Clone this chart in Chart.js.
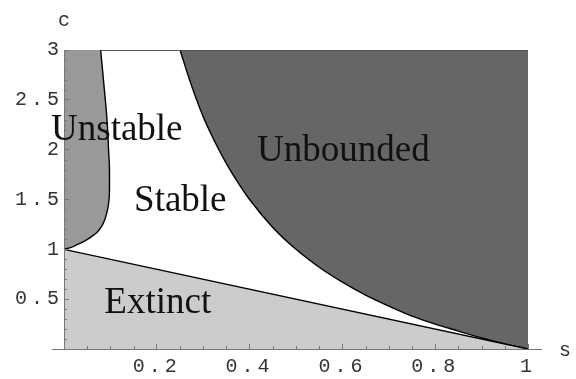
<!DOCTYPE html>
<html lang="en">
<head>
    <meta charset="UTF-8">
    <title>Stability regions in the (s, c) plane</title>
    <script src="https://cdn.jsdelivr.net/npm/chart.js@4.4.1/dist/chart.umd.min.js"></script>
    <style>
        html, body { margin: 0; padding: 0; background: #fff; }
    </style>
</head>
<body>
    <canvas id="chart" width="576" height="379"></canvas>

    <script>
        // edge of the unstable region, read bottom to top (s given c)
        const unstableC = [1.0, 1.02, 1.04, 1.06, 1.09, 1.13, 1.17, 1.23, 1.3, 1.4, 1.5, 1.6, 1.8, 2.0, 2.2, 2.4, 2.6, 2.8, 3.0];
        const unstableS = [0, 0.016, 0.025, 0.034, 0.047, 0.06, 0.071, 0.081, 0.088, 0.094, 0.097, 0.098, 0.098, 0.096, 0.094, 0.091, 0.087, 0.083, 0.079];

        // edge of the unbounded region
        const unboundedS = [0.25, 0.275, 0.3, 0.325, 0.35, 0.375, 0.4, 0.45, 0.5, 0.55, 0.6, 0.65, 0.7, 0.75, 0.8, 0.85, 0.9, 0.95, 1.0];
        const unboundedC = [3.0, 2.64, 2.33, 2.08, 1.86, 1.67, 1.5, 1.22, 1.0, 0.82, 0.67, 0.54, 0.43, 0.33, 0.25, 0.18, 0.11, 0.05, 0];

        // extinction line
        const extinctS = [0, 1];
        const extinctC = [1, 0];

        // region names
        const regionNames = ['Unstable', 'Stable', 'Unbounded', 'Extinct'];

        const toPoints = (xs, ys) => xs.map((x, i) => ({ x: x, y: ys[i] }));

        const mono = "'Liberation Mono', 'Courier New', monospace";
        const serif = "'Liberation Serif', 'Times New Roman', serif";
        const axisGrey = '#777';

        // wide letter spacing for the tick numbers, switched off before the datasets
        const tickSpacing = {
            id: 'tickSpacing',
            beforeDraw(chart) { chart.ctx.letterSpacing = '4px'; },
            beforeDatasetsDraw(chart) { chart.ctx.letterSpacing = '0px'; }
        };

        // minor ticks, extended s axis, top edge, axis names and region names
        const decorations = {
            id: 'decorations',
            afterDatasetsDraw(chart) {
                const ctx = chart.ctx;
                const x = chart.scales.x, y = chart.scales.y;
                const a = chart.chartArea;
                ctx.save();
                ctx.strokeStyle = axisGrey;
                ctx.lineWidth = 1;
                ctx.beginPath();
                for (let i = 1; i < 20; i++) {
                    if (i % 4 === 0) continue;
                    const px = Math.round(x.getPixelForValue(i * 0.05)) + 0.5;
                    ctx.moveTo(px, a.bottom);
                    ctx.lineTo(px, a.bottom - 3);
                }
                for (let i = 1; i < 30; i++) {
                    if (i % 5 === 0) continue;
                    const py = Math.round(y.getPixelForValue(i * 0.1)) + 0.5;
                    ctx.moveTo(a.left, py);
                    ctx.lineTo(a.left + 3, py);
                }
                // s axis runs a little past the plot on both sides
                ctx.moveTo(a.left - 12, Math.round(a.bottom) + 0.5);
                ctx.lineTo(a.right + 14, Math.round(a.bottom) + 0.5);
                ctx.stroke();
                // top edge of the plot, right of the unstable region
                ctx.strokeStyle = '#555';
                ctx.beginPath();
                ctx.moveTo(x.getPixelForValue(unstableS[unstableS.length - 1]), Math.round(a.top) + 0.5);
                ctx.lineTo(a.right, Math.round(a.top) + 0.5);
                ctx.stroke();
                ctx.restore();
            },
            afterDraw(chart) {
                const ctx = chart.ctx;
                const x = chart.scales.x, y = chart.scales.y;
                ctx.save();
                ctx.letterSpacing = '0px';
                ctx.fillStyle = '#333';
                ctx.font = '20px ' + mono;
                ctx.textAlign = 'center';
                ctx.textBaseline = 'middle';
                ctx.fillText('c', x.getPixelForValue(0), 21);
                ctx.fillText('s', x.getPixelForValue(1) + 37, y.getPixelForValue(0) + 2);

                ctx.fillStyle = '#111';
                ctx.font = '37px ' + serif;
                ctx.textAlign = 'left';
                ctx.textBaseline = 'alphabetic';
                const anchors = [[-0.028, 2.1], [0.151, 1.38], [0.416, 1.885], [0.087, 0.36]];
                regionNames.forEach((name, i) => {
                    ctx.fillText(name, x.getPixelForValue(anchors[i][0]), y.getPixelForValue(anchors[i][1]));
                });
                ctx.restore();
            }
        };

        const ctx = document.getElementById('chart').getContext('2d');
        const chart = new Chart(ctx, {
            type: 'line',
            data: {
                datasets: [
                    {
                        label: 'Extinct',
                        data: toPoints(extinctS, extinctC),
                        borderColor: '#000',
                        borderWidth: 1.4,
                        backgroundColor: '#cccccc',
                        fill: { value: 0 },
                        pointRadius: 0
                    },
                    {
                        label: 'Unbounded',
                        data: toPoints(unboundedS, unboundedC),
                        borderColor: '#000',
                        borderWidth: 1.4,
                        backgroundColor: '#666666',
                        fill: { value: 3 },
                        cubicInterpolationMode: 'monotone',
                        pointRadius: 0
                    },
                    {
                        // runs along c, so the fill goes left to s = 0
                        label: 'Unstable',
                        indexAxis: 'y',
                        data: toPoints(unstableS, unstableC),
                        borderColor: '#000',
                        borderWidth: 1.4,
                        backgroundColor: '#999999',
                        fill: { value: 0 },
                        cubicInterpolationMode: 'monotone',
                        pointRadius: 0
                    }
                ]
            },
            options: {
                responsive: false,
                animation: false,
                layout: { padding: { top: 50, right: 48, left: 0, bottom: 0 } },
                plugins: {
                    legend: { display: false },
                    tooltip: { enabled: false }
                },
                scales: {
                    x: {
                        type: 'linear',
                        min: 0,
                        max: 1,
                        afterFit: s => { s.height = 30; },
                        border: { display: false },
                        grid: {
                            drawOnChartArea: false,
                            tickLength: -5,
                            tickColor: axisGrey,
                            z: 1
                        },
                        ticks: {
                            stepSize: 0.2,
                            padding: 11,
                            color: '#333',
                            font: { family: mono, size: 20 },
                            maxRotation: 0,
                            callback: v => v === 0 ? '' : String(+v.toFixed(1))
                        }
                    },
                    y: {
                        type: 'linear',
                        min: 0,
                        max: 3,
                        afterFit: s => { s.width = 64; },
                        border: { display: true, color: axisGrey, z: 1 },
                        grid: {
                            drawOnChartArea: false,
                            tickLength: -5,
                            tickColor: axisGrey,
                            z: 1
                        },
                        ticks: {
                            stepSize: 0.5,
                            padding: 6,
                            color: '#333',
                            font: { family: mono, size: 20 },
                            callback: v => v === 0 ? '' : String(+v.toFixed(1))
                        }
                    }
                }
            },
            plugins: [tickSpacing, decorations]
        });
    </script>
</body>
</html>
